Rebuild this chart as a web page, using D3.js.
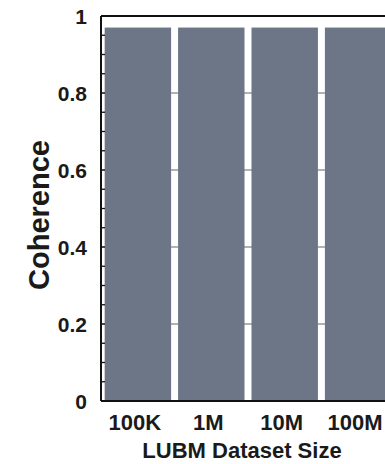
<!DOCTYPE html>
<html>
<head>
<meta charset="utf-8">
<script src="https://cdn.jsdelivr.net/npm/d3@7"></script>
<style>
  body { margin: 0; background: #fff; }
  text { font-family: "Liberation Sans", Arial, sans-serif; font-weight: bold; fill: #1a1a1a; }
</style>
</head>
<body>
<svg id="chart" width="385" height="464"></svg>
<script>
const sizes = ["100K", "1M", "10M", "100M"];
const coherence = [0.97, 0.97, 0.97, 0.97];
const yTicks = [0, 0.2, 0.4, 0.6, 0.8, 1];

const svg = d3.select("#chart");
const mLeft = 101, mTop = 16, mBottom = 401, mRight = 395;

const x = d3.scaleBand()
  .domain(sizes)
  .range([mLeft, mRight])
  .paddingInner(0.095)
  .paddingOuter(0.05);

const y = d3.scaleLinear()
  .domain([0, 1])
  .range([mBottom, mTop]);

// gridlines behind the bars (only show in gaps)
svg.append("g")
  .selectAll("line")
  .data(yTicks.filter(d => d > 0 && d < 1))
  .join("line")
  .attr("x1", mLeft).attr("x2", mRight)
  .attr("y1", d => y(d)).attr("y2", d => y(d))
  .attr("stroke", "#666").attr("stroke-width", 1.2);

svg.append("g")
  .selectAll("rect")
  .data(sizes)
  .join("rect")
  .attr("x", d => x(d))
  .attr("y", (d, i) => y(coherence[i]))
  .attr("width", x.bandwidth())
  .attr("height", (d, i) => y(0) - y(coherence[i]))
  .attr("fill", "#6d7686");

// minor ticks on left axis, pointing inward
const minor = d3.range(0, 1.0001, 0.05);
svg.append("g")
  .selectAll("line")
  .data(minor)
  .join("line")
  .attr("x1", mLeft).attr("x2", mLeft + 4)
  .attr("y1", d => y(d)).attr("y2", d => y(d))
  .attr("stroke", "#111").attr("stroke-width", 1.3);

// frame lines
svg.append("line").attr("x1", mLeft).attr("x2", mLeft).attr("y1", mTop).attr("y2", mBottom)
  .attr("stroke", "#111").attr("stroke-width", 2);
svg.append("line").attr("x1", mLeft).attr("x2", 385).attr("y1", mTop).attr("y2", mTop)
  .attr("stroke", "#111").attr("stroke-width", 2);
svg.append("line").attr("x1", mLeft).attr("x2", 385).attr("y1", mBottom).attr("y2", mBottom)
  .attr("stroke", "#111").attr("stroke-width", 2);

// y tick labels
svg.append("g")
  .selectAll("text")
  .data(yTicks)
  .join("text")
  .attr("x", 87)
  .attr("y", d => y(d) + 8)
  .attr("text-anchor", "end")
  .style("font-size", "21px")
  .text(d => d === 0 || d === 1 ? d : d.toFixed(1));

// x tick labels
svg.append("g")
  .selectAll("text")
  .data(sizes)
  .join("text")
  .attr("x", d => x(d) + x.bandwidth() / 2 - 3)
  .attr("y", 430)
  .attr("text-anchor", "middle")
  .style("font-size", "22px")
  .text(d => d);

svg.append("text")
  .attr("x", 242).attr("y", 458)
  .attr("text-anchor", "middle")
  .style("font-size", "22px")
  .text("LUBM Dataset Size");

svg.append("text")
  .attr("transform", "translate(49,215) rotate(-90)")
  .attr("text-anchor", "middle")
  .style("font-size", "29px")
  .text("Coherence");
</script>
</body>
</html>
